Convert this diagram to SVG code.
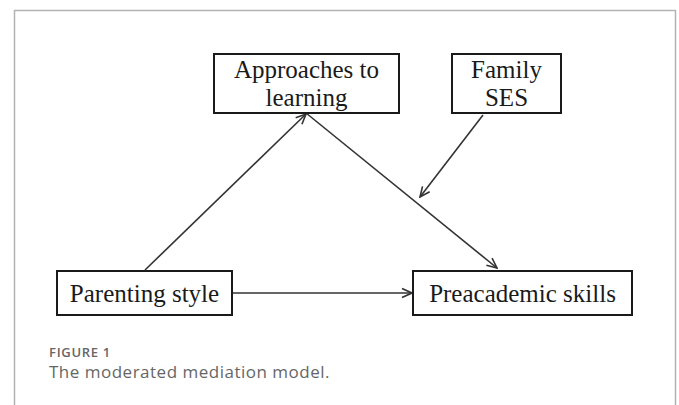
<svg xmlns="http://www.w3.org/2000/svg" width="679" height="405" viewBox="0 0 679 405">
<style>
.box{fill:#fff;stroke:#1a1a1a;stroke-width:2}
.lbl{font-family:"Liberation Serif","Times New Roman",serif;font-size:25px;fill:#1a1a1a;text-anchor:middle}
.con{stroke:#333;stroke-width:1.6;fill:none}
.cap{font-family:"Open Sans","Noto Sans",sans-serif;fill:#666}
</style>
<defs>
<marker id="arr" markerUnits="userSpaceOnUse" markerWidth="12" markerHeight="12" refX="11" refY="6" orient="auto">
<path d="M1,1.5 L11,6 L1,10.5" fill="none" stroke="#333" stroke-width="1.6"/>
</marker>
</defs>
<rect x="14.5" y="10.5" width="661" height="420" fill="#fff" stroke="#b3b3b3" stroke-width="1.5"/>
<g id="connectors">
<line class="con" x1="145" y1="270" x2="306" y2="114" marker-end="url(#arr)"/>
<line class="con" x1="306" y1="113" x2="497" y2="268" marker-end="url(#arr)"/>
<line class="con" x1="483" y1="115" x2="420" y2="197" marker-end="url(#arr)"/>
<line class="con" x1="232" y1="293" x2="412" y2="293" marker-end="url(#arr)"/>
</g>
<g id="approaches">
<rect class="box" x="214" y="54" width="185" height="59"/>
<text class="lbl" x="306.5" y="78">Approaches to</text>
<text class="lbl" x="306.5" y="106">learning</text>
</g>
<g id="family">
<rect class="box" x="452" y="54" width="109" height="59"/>
<text class="lbl" x="506.5" y="78">Family</text>
<text class="lbl" x="506.5" y="106">SES</text>
</g>
<g id="parenting">
<rect class="box" x="57" y="271" width="175" height="44"/>
<text class="lbl" x="144.5" y="302">Parenting style</text>
</g>
<g id="preacademic">
<rect class="box" x="413" y="271" width="219" height="44"/>
<text class="lbl" x="522.5" y="302">Preacademic skills</text>
</g>
<text class="cap" x="49" y="357" font-size="13" font-weight="600" letter-spacing="0.7">FIGURE 1</text>
<text class="cap" x="49" y="378" font-size="17" letter-spacing="0.5">The moderated mediation model.</text>
</svg>
